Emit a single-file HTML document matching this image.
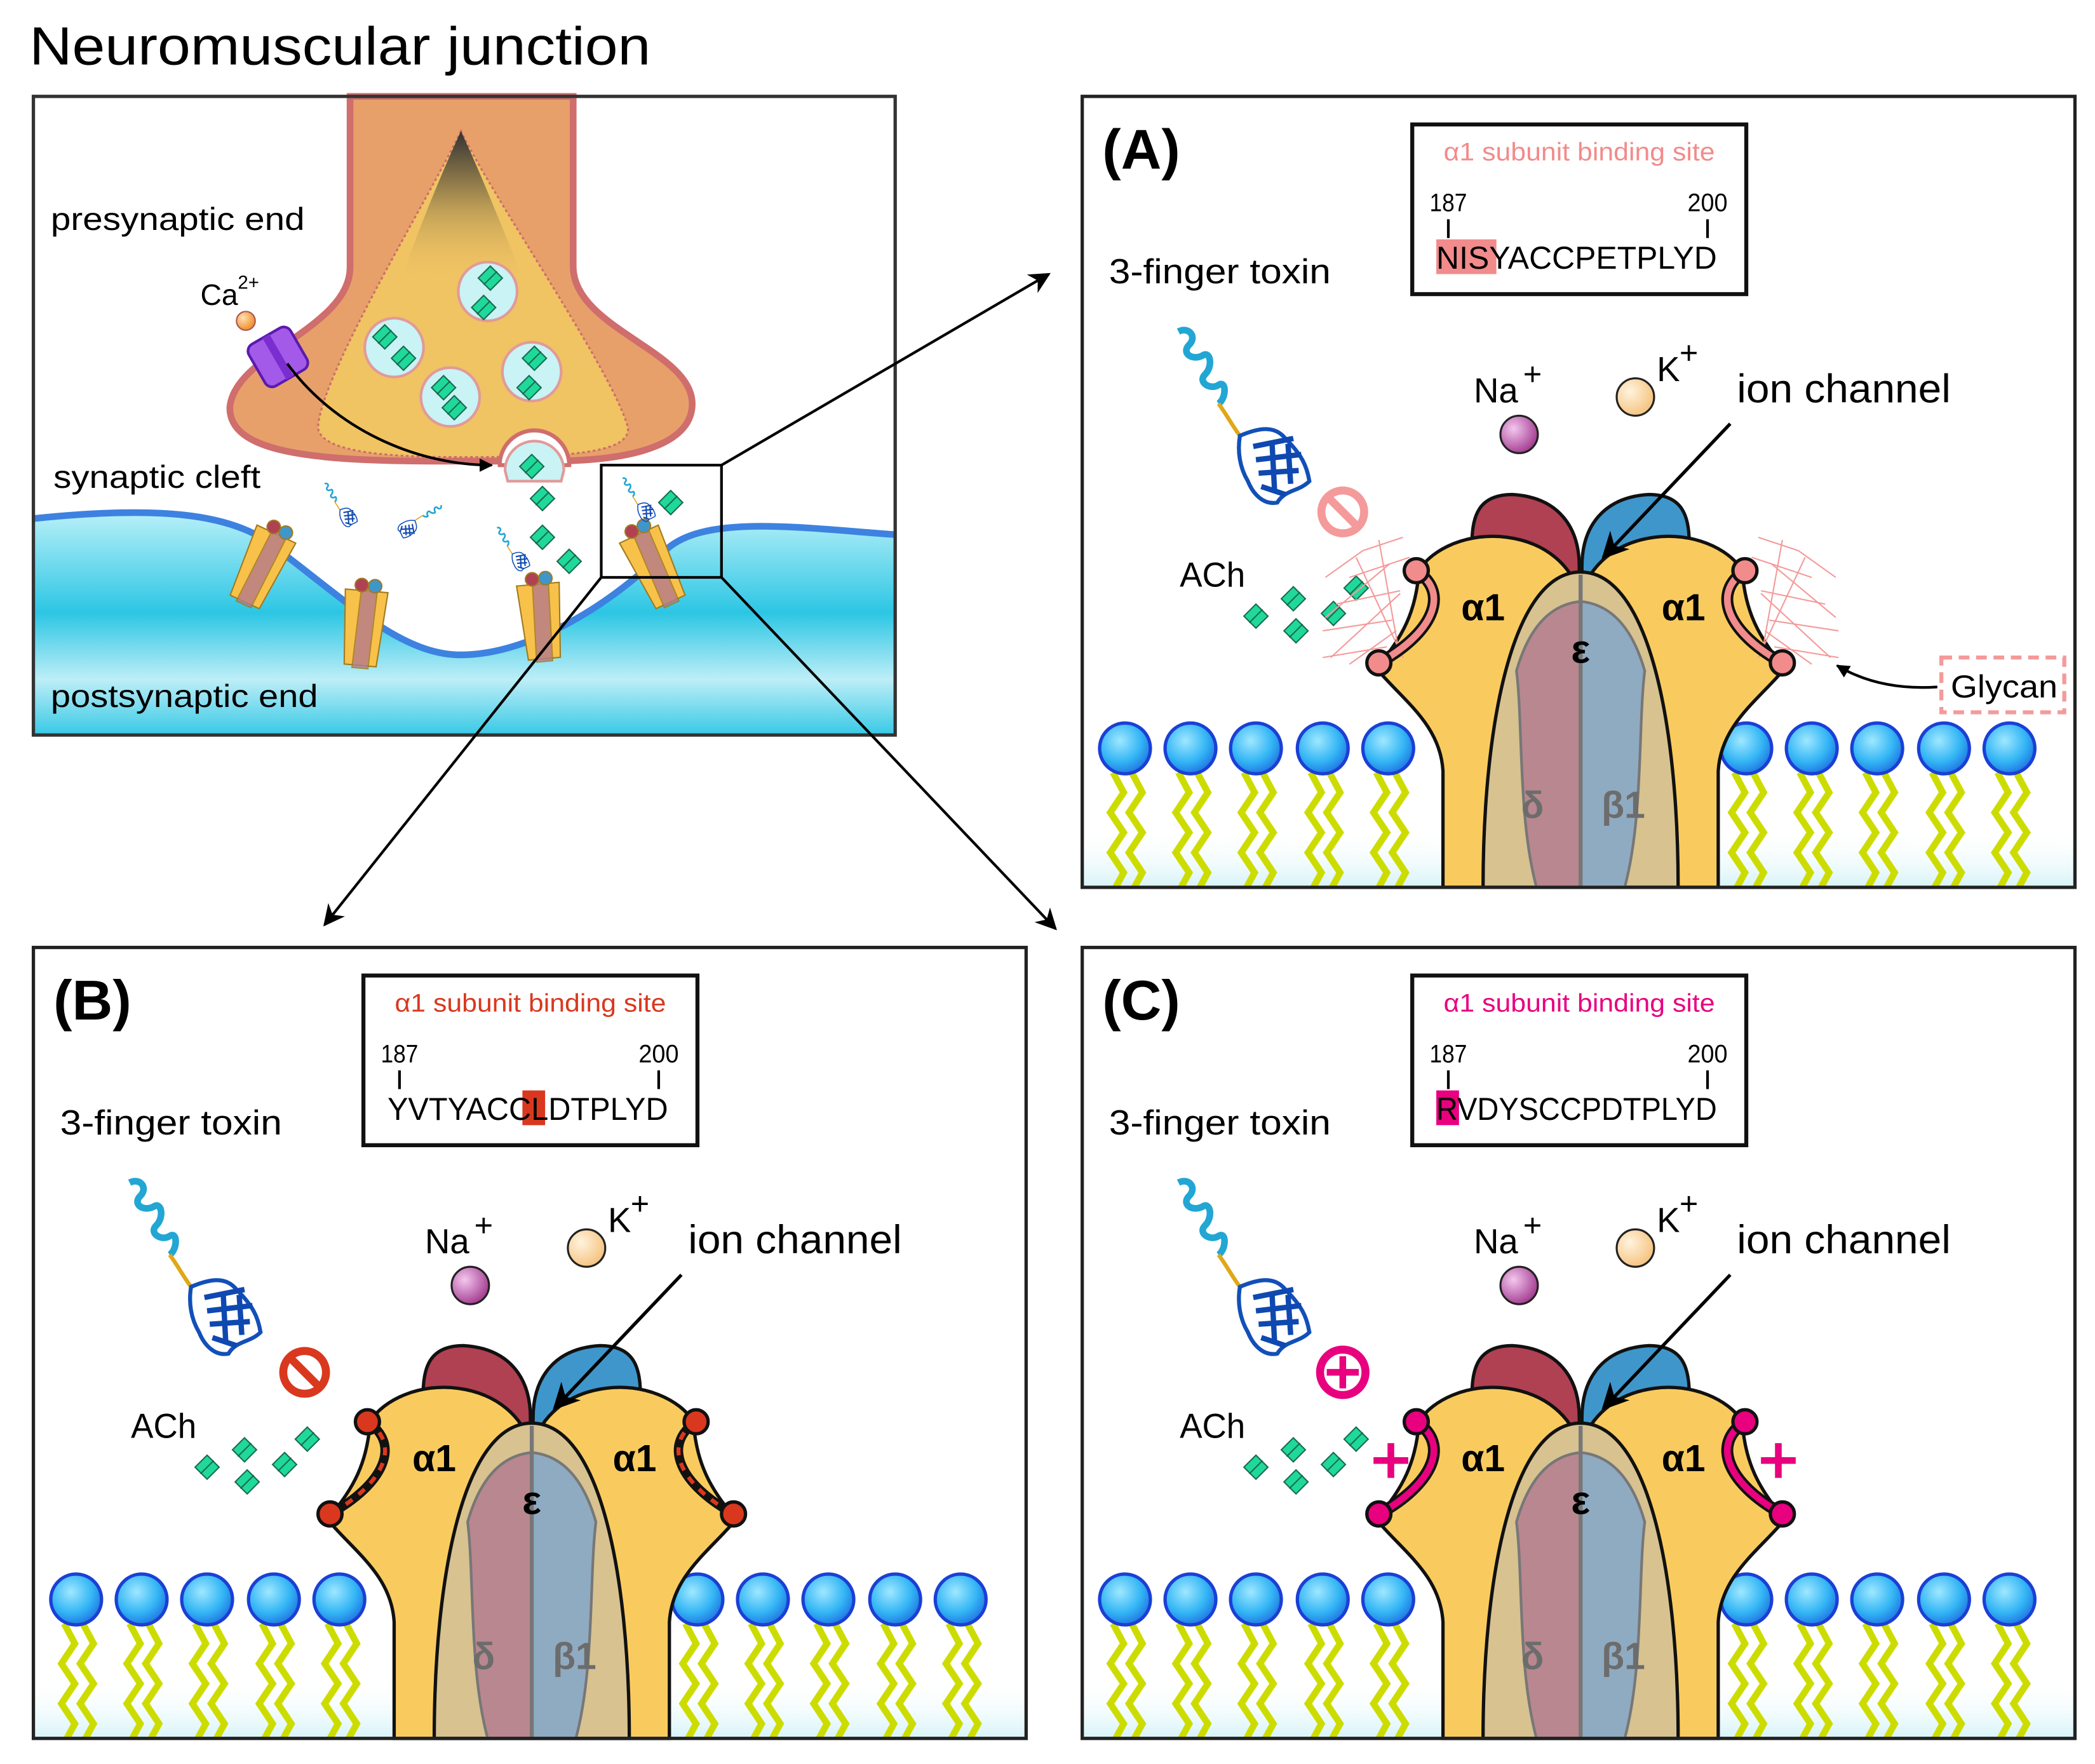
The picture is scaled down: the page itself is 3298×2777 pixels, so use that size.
<!DOCTYPE html>
<html><head><meta charset="utf-8"><style>
html,body{margin:0;padding:0;background:#fff}
svg{display:block}
text{font-family:"Liberation Sans","DejaVu Sans",sans-serif}
</style></head><body>
<svg width="3298" height="2777" viewBox="0 0 1568 1320" xmlns="http://www.w3.org/2000/svg">
<defs>
<radialGradient id="headg" cx="0.4" cy="0.35" r="0.7"><stop offset="0" stop-color="#9fe8ff"/><stop offset="0.6" stop-color="#33b5f5"/><stop offset="1" stop-color="#1e6fe0"/></radialGradient>
<radialGradient id="nag" cx="0.35" cy="0.35" r="0.7"><stop offset="0" stop-color="#f3c7ee"/><stop offset="1" stop-color="#a2398f"/></radialGradient>
<radialGradient id="kg" cx="0.35" cy="0.35" r="0.7"><stop offset="0" stop-color="#fff3df"/><stop offset="1" stop-color="#f5c27c"/></radialGradient>
<radialGradient id="cag" cx="0.35" cy="0.35" r="0.7"><stop offset="0" stop-color="#ffe1b5"/><stop offset="1" stop-color="#ef8a22"/></radialGradient>
<linearGradient id="bot" x1="0" y1="0" x2="0" y2="1"><stop offset="0" stop-color="#fff" stop-opacity="0"/><stop offset="1" stop-color="#d6f3f8"/></linearGradient>
<linearGradient id="post" x1="0" y1="0" x2="0" y2="1"><stop offset="0" stop-color="#b8f0f8"/><stop offset="0.45" stop-color="#2cc6e4"/><stop offset="0.75" stop-color="#bdeef7"/><stop offset="1" stop-color="#38c9e6"/></linearGradient>
<linearGradient id="apex" x1="0" y1="0" x2="0" y2="1"><stop offset="0" stop-color="#333"/><stop offset="0.5" stop-color="#b99a55"/><stop offset="1" stop-color="#f0c363" stop-opacity="0"/></linearGradient>
<marker id="ah" viewBox="0 0 10 10" refX="9" refY="5" markerWidth="8" markerHeight="8" orient="auto-start-reverse"><path d="M0,0 L10,5 L0,10 L3,5 Z" fill="#000"/></marker>
<marker id="ah2" viewBox="0 0 10 10" refX="9" refY="5" markerWidth="5" markerHeight="5" orient="auto"><path d="M0,0 L10,5 L0,10 Z" fill="#000"/></marker>

<g id="lip">
<polyline points="-9,18 -1,33 -11,48 -1,63 -11,78 -1,93 -7,104" fill="none" stroke="#cddc00" stroke-width="5"/>
<polyline points="5,18 13,33 3,48 13,63 3,78 13,93 7,104" fill="none" stroke="#cddc00" stroke-width="5"/>
<circle cx="0" cy="0" r="19" fill="url(#headg)" stroke="#1b3fd6" stroke-width="2.5"/>
</g>

<g id="ach"><path d="M0,-9 L9,0 L0,9 L-9,0 Z" fill="#1fd99a" stroke="#1a6b50" stroke-width="1"/><line x1="-5" y1="5" x2="5" y2="-5" stroke="#1a6b50" stroke-width="1"/></g>

<g id="alpha">
<path d="M372,592 L270,592 L270,505 C268,470 240,452 220,428 C240,405 250,385 252,355 C262,338 290,326 318,330 C348,334 366,352 372,372 Z" fill="#f9cb5f" stroke="#111" stroke-width="2.5"/>
</g>

<g id="toxin">
<path d="M0,0 C8,-4 14,4 8,10 C2,16 10,22 18,18 C24,14 26,26 20,32 C14,38 24,44 30,40 C36,36 36,50 30,54" fill="none" stroke="#22a6d4" stroke-width="5"/>
<path d="M30,54 C36,62 40,70 46,78" fill="none" stroke="#e0a818" stroke-width="3"/>
<path d="M46,78 C60,72 72,70 80,80 C92,92 96,100 98,112 C90,120 80,118 74,128 C64,130 56,122 52,112 C46,102 44,90 46,78 Z" fill="none" stroke="#1250b8" stroke-width="3"/>
<path d="M56,86 L86,80 M58,96 L92,92 M60,106 L90,104 M62,116 L80,122 M70,82 L72,120 M82,84 L84,114" stroke="#0f48b0" stroke-width="4"/>
</g>

<g id="panel">
<rect x="0" y="548" width="743" height="44" fill="url(#bot)"/>
<use href="#lip" x="32" y="488"/><use href="#lip" x="81" y="488"/><use href="#lip" x="130" y="488"/><use href="#lip" x="180" y="488"/><use href="#lip" x="229" y="488"/>
<use href="#lip" x="497" y="488"/><use href="#lip" x="546" y="488"/><use href="#lip" x="595" y="488"/><use href="#lip" x="645" y="488"/><use href="#lip" x="694" y="488"/>
<path d="M292,342 C290,312 298,298 322,298 C356,300 372,322 372,352 L372,372 L300,372 Z" fill="#b04152" stroke="#111" stroke-width="2.5"/>
<path d="M454,342 C456,312 448,298 424,298 C390,300 374,322 374,352 L374,372 L446,372 Z" fill="#3f96cb" stroke="#111" stroke-width="2.5"/>
<use href="#alpha"/>
<use href="#alpha" transform="translate(746,0) scale(-1,1)"/>
<path d="M300,592 C300,470 322,356 373,356 C424,356 446,470 446,592 Z" fill="#d7c290" stroke="#111" stroke-width="2.5"/>
<path d="M340,592 C326,540 330,470 325,430 C335,395 352,380 373,378 L373,592 Z" fill="#b9878f" stroke="#777" stroke-width="2"/>
<path d="M406,592 C420,540 416,470 421,430 C411,395 394,380 373,378 L373,592 Z" fill="#8fabc2" stroke="#777" stroke-width="2"/>
<path d="M373,358 L373,592" stroke="#777" stroke-width="3"/>
<text x="300" y="392" font-size="28" font-weight="bold" text-anchor="middle">α1</text>
<text x="450" y="392" font-size="28" font-weight="bold" text-anchor="middle">α1</text>
<text x="373" y="424" font-size="30" font-weight="bold" text-anchor="middle">ε</text>
<text x="337" y="540" font-size="28" font-weight="bold" text-anchor="middle" fill="#6c6c6c">δ</text>
<text x="405" y="540" font-size="28" font-weight="bold" text-anchor="middle" fill="#6c6c6c">β1</text>
<circle cx="327" cy="253" r="14" fill="url(#nag)" stroke="#222" stroke-width="1.5"/>
<circle cx="414" cy="225" r="14" fill="url(#kg)" stroke="#222" stroke-width="1.5"/>
<text x="293" y="229" font-size="26">Na</text><text x="330" y="216" font-size="24">+</text>
<text x="430" y="213" font-size="26">K</text><text x="447" y="200" font-size="24">+</text>
<text x="490" y="229" font-size="30" textLength="160" lengthAdjust="spacingAndGlyphs">ion channel</text>
<line x1="485" y1="245" x2="390" y2="345" stroke="#000" stroke-width="2.5" marker-end="url(#ah)"/>
<text x="20" y="140" font-size="26" textLength="166" lengthAdjust="spacingAndGlyphs">3-finger toxin</text>
<rect x="247" y="21" width="250" height="127" fill="#fff" stroke="#111" stroke-width="3"/>
<text x="260" y="86" font-size="19" textLength="28" lengthAdjust="spacingAndGlyphs">187</text>
<text x="453" y="86" font-size="19" textLength="30" lengthAdjust="spacingAndGlyphs">200</text>
<line x1="274" y1="92" x2="274" y2="106" stroke="#000" stroke-width="2"/>
<line x1="468" y1="92" x2="468" y2="106" stroke="#000" stroke-width="2"/>
<text x="73" y="367" font-size="26" textLength="49" lengthAdjust="spacingAndGlyphs">ACh</text>
<use href="#ach" x="130" y="389"/><use href="#ach" x="158" y="376"/><use href="#ach" x="160" y="400"/><use href="#ach" x="188" y="387"/><use href="#ach" x="205" y="368"/>
<use href="#toxin" x="72" y="176"/>
</g>
</defs>

<rect width="1568" height="1320" fill="#fff"/>
<text x="22" y="48" font-size="40" textLength="465" lengthAdjust="spacingAndGlyphs">Neuromuscular junction</text>

<!-- top-left panel -->
<g>
<path d="M25,388 C120,378 170,385 200,405 C260,450 300,490 345,490 C390,490 450,460 500,410 C530,385 600,395 670,400 L670,550 L25,550 Z" fill="url(#post)"/>
<path d="M25,388 C120,378 170,385 200,405 C260,450 300,490 345,490 C390,490 450,460 500,410 C530,385 600,395 670,400" fill="none" stroke="#3d82e0" stroke-width="5"/>
<path d="M262,72 L262,200 C262,245 175,265 172,305 C172,338 230,345 330,345 L410,345 C480,345 520,330 518,300 C515,262 430,245 429,200 L429,72 Z" fill="#e7a06a" stroke="#cf6e6c" stroke-width="5"/>
<path d="M345,98 C320,150 240,280 238,320 C240,340 300,342 345,342 C420,342 472,340 470,320 C460,280 370,150 345,98 Z" fill="#f0c363" stroke="#cc6e6a" stroke-width="1.5" stroke-dasharray="2,2"/>
<path d="M345,98 C330,130 310,180 300,210 L392,210 C380,180 360,130 345,98 Z" fill="url(#apex)"/>
<circle cx="365" cy="218" r="22" fill="#c9f3f5" stroke="#e19a9a" stroke-width="2"/>
<circle cx="295" cy="260" r="22" fill="#c9f3f5" stroke="#e19a9a" stroke-width="2"/>
<circle cx="398" cy="278" r="22" fill="#c9f3f5" stroke="#e19a9a" stroke-width="2"/>
<circle cx="337" cy="297" r="22" fill="#c9f3f5" stroke="#e19a9a" stroke-width="2"/>
<path d="M374,348 A26,26 0 0 1 426,348 Z" fill="#fff" stroke="#cf6e6c" stroke-width="3"/>
<path d="M378,352 A22,22 0 0 1 422,352 L420,360 L380,360 Z" fill="#c9f3f5" stroke="#e19a9a" stroke-width="2"/>
<g transform="scale(1)">
<use href="#ach" x="367" y="208"/><use href="#ach" x="362" y="230"/>
<use href="#ach" x="288" y="252"/><use href="#ach" x="302" y="268"/>
<use href="#ach" x="400" y="268"/><use href="#ach" x="396" y="290"/>
<use href="#ach" x="332" y="290"/><use href="#ach" x="340" y="305"/>
<use href="#ach" x="398" y="349"/><use href="#ach" x="406" y="373"/><use href="#ach" x="406" y="402"/><use href="#ach" x="426" y="420"/><use href="#ach" x="502" y="376"/>
</g>
<circle cx="184" cy="240" r="7" fill="url(#cag)" stroke="#a55" stroke-width="1"/>
<g transform="translate(208,267) rotate(-30)"><rect x="-18" y="-18" width="36" height="36" rx="6" fill="#a45ae8" stroke="#5a1ab0" stroke-width="2"/><line x1="0" y1="-18" x2="0" y2="18" stroke="#7a2ecf" stroke-width="6"/></g>
<path d="M215,272 C250,320 310,348 368,348" fill="none" stroke="#000" stroke-width="2" marker-end="url(#ah2)"/>
<text x="150" y="228" font-size="22">Ca</text><text x="178" y="216" font-size="14">2+</text>
<!-- receptors -->
<g fill="#f8c24a" stroke="#a07a20" stroke-width="1">
<g transform="translate(195,425) rotate(25)"><path d="M-16,-28 L16,-28 L12,28 L-12,28 Z"/><path d="M-4,-30 L8,-30 L6,30 L-6,30 Z" fill="#b57a8a" opacity="0.8"/><circle cx="-4" cy="-32" r="5" fill="#b04152"/><circle cx="6" cy="-32" r="5" fill="#3f96cb"/></g>
<g transform="translate(272,470) rotate(5)"><path d="M-16,-28 L16,-28 L12,28 L-12,28 Z"/><path d="M-4,-30 L8,-30 L6,30 L-6,30 Z" fill="#b57a8a" opacity="0.8"/><circle cx="-4" cy="-32" r="5" fill="#b04152"/><circle cx="6" cy="-32" r="5" fill="#3f96cb"/></g>
<g transform="translate(405,465) rotate(-5)"><path d="M-16,-28 L16,-28 L12,28 L-12,28 Z"/><path d="M-4,-30 L8,-30 L6,30 L-6,30 Z" fill="#b57a8a" opacity="0.8"/><circle cx="-4" cy="-32" r="5" fill="#b04152"/><circle cx="6" cy="-32" r="5" fill="#3f96cb"/></g>
<g transform="translate(490,425) rotate(-25)"><path d="M-16,-28 L16,-28 L12,28 L-12,28 Z"/><path d="M-4,-30 L8,-30 L6,30 L-6,30 Z" fill="#b57a8a" opacity="0.8"/><circle cx="-4" cy="-32" r="5" fill="#b04152"/><circle cx="6" cy="-32" r="5" fill="#3f96cb"/></g>
</g>
<use href="#toxin" transform="translate(243,362) scale(0.25)"/>
<use href="#toxin" transform="translate(330,378) rotate(90) scale(0.25)"/>
<use href="#toxin" transform="translate(372,395) scale(0.25)"/>
<use href="#toxin" transform="translate(466,358) scale(0.25)"/>
<text x="38" y="172" font-size="24" textLength="190" lengthAdjust="spacingAndGlyphs">presynaptic end</text>
<text x="40" y="365" font-size="24" textLength="155" lengthAdjust="spacingAndGlyphs">synaptic cleft</text>
<text x="38" y="529" font-size="24" textLength="200" lengthAdjust="spacingAndGlyphs">postsynaptic end</text>
<rect x="450" y="348" width="90" height="84" fill="none" stroke="#000" stroke-width="2"/>
<rect x="25" y="72" width="645" height="478" fill="none" stroke="#333" stroke-width="2.5"/>
</g>
<line x1="540" y1="348" x2="785" y2="205" stroke="#000" stroke-width="2" marker-end="url(#ah)"/>
<line x1="450" y1="432" x2="243" y2="692" stroke="#000" stroke-width="2" marker-end="url(#ah)"/>
<line x1="540" y1="432" x2="790" y2="695" stroke="#000" stroke-width="2" marker-end="url(#ah)"/>

<!-- Panel A -->
<g transform="translate(810,72)">
<use href="#panel"/>
<g stroke="#f49a9a" stroke-width="1" fill="none">
<path d="M210,340 L240,330 M200,360 L245,345 M190,380 L238,370 M180,400 L232,392 M180,420 L228,412 M182,360 L210,340 M182,390 L230,350 M186,420 L238,372 M200,425 L235,400 M205,345 L240,420 M222,332 L236,410"/>
<path d="M536,340 L506,330 M546,360 L501,345 M556,380 L508,370 M566,400 L514,392 M566,420 L518,412 M564,360 L536,340 M564,390 L516,350 M560,420 L508,372 M546,425 L511,400 M541,345 L506,420 M524,332 L510,410"/>
</g>
<path d="M250,355 C276,372 262,402 222,424" fill="none" stroke="#111" stroke-width="9"/>
<path d="M250,355 C276,372 262,402 222,424" fill="none" stroke="#f28b8b" stroke-width="5"/>
<circle cx="250" cy="355" r="9" fill="#f28b8b" stroke="#111" stroke-width="2.5"/><circle cx="222" cy="424" r="9" fill="#f28b8b" stroke="#111" stroke-width="2.5"/>
<path d="M496,355 C470,372 484,402 524,424" fill="none" stroke="#111" stroke-width="9"/>
<path d="M496,355 C470,372 484,402 524,424" fill="none" stroke="#f28b8b" stroke-width="5"/>
<circle cx="496" cy="355" r="9" fill="#f28b8b" stroke="#111" stroke-width="2.5"/><circle cx="524" cy="424" r="9" fill="#f28b8b" stroke="#111" stroke-width="2.5"/>
<circle cx="195" cy="311" r="16" fill="none" stroke="#f49a9a" stroke-width="6"/><line x1="184" y1="300" x2="206" y2="322" stroke="#f49a9a" stroke-width="6"/>
<rect x="643" y="420" width="92" height="41" fill="#fff" stroke="#f49a9a" stroke-width="3" stroke-dasharray="8,5"/>
<text x="650" y="450" font-size="24" textLength="80" lengthAdjust="spacingAndGlyphs">Glycan</text>
<path d="M640,442 C610,444 585,438 565,426" fill="none" stroke="#000" stroke-width="2" marker-end="url(#ah2)"/>
<text x="15" y="54" font-size="42" font-weight="bold">(A)</text>
<rect x="265" y="107" width="45" height="26" fill="#f28b8b"/>
<text x="372" y="48" font-size="19" fill="#f28b8b" text-anchor="middle" textLength="203" lengthAdjust="spacingAndGlyphs">α1 subunit binding site</text>
<text x="265" y="129" font-size="24" textLength="210" lengthAdjust="spacingAndGlyphs">NISYACCPETPLYD</text>
<rect x="0" y="0" width="743" height="592" fill="none" stroke="#222" stroke-width="2.5"/>
</g>

<!-- Panel B -->
<g transform="translate(25,709)">
<use href="#panel"/>
<path d="M250,355 C276,372 262,402 222,424" fill="none" stroke="#111" stroke-width="7"/>
<path d="M250,355 C276,372 262,402 222,424" fill="none" stroke="#d9381e" stroke-width="3" stroke-dasharray="6,6"/>
<circle cx="250" cy="355" r="9" fill="#d9381e" stroke="#111" stroke-width="2.5"/><circle cx="222" cy="424" r="9" fill="#d9381e" stroke="#111" stroke-width="2.5"/>
<path d="M496,355 C470,372 484,402 524,424" fill="none" stroke="#111" stroke-width="7"/>
<path d="M496,355 C470,372 484,402 524,424" fill="none" stroke="#d9381e" stroke-width="3" stroke-dasharray="6,6"/>
<circle cx="496" cy="355" r="9" fill="#d9381e" stroke="#111" stroke-width="2.5"/><circle cx="524" cy="424" r="9" fill="#d9381e" stroke="#111" stroke-width="2.5"/>
<circle cx="203" cy="318" r="16" fill="none" stroke="#d9381e" stroke-width="6"/><line x1="192" y1="307" x2="214" y2="329" stroke="#d9381e" stroke-width="6"/>
<text x="15" y="54" font-size="42" font-weight="bold">(B)</text>
<rect x="366" y="107" width="17" height="26" fill="#d9381e"/>
<text x="372" y="48" font-size="19" fill="#d9381e" text-anchor="middle" textLength="203" lengthAdjust="spacingAndGlyphs">α1 subunit binding site</text>
<text x="265" y="129" font-size="24" textLength="210" lengthAdjust="spacingAndGlyphs">YVTYACCLDTPLYD</text>
<rect x="0" y="0" width="743" height="592" fill="none" stroke="#222" stroke-width="2.5"/>
</g>

<!-- Panel C -->
<g transform="translate(810,709)">
<use href="#panel"/>
<path d="M250,355 C276,372 262,402 222,424" fill="none" stroke="#111" stroke-width="9"/>
<path d="M250,355 C276,372 262,402 222,424" fill="none" stroke="#e8007f" stroke-width="5"/>
<circle cx="250" cy="355" r="9" fill="#e8007f" stroke="#111" stroke-width="2.5"/><circle cx="222" cy="424" r="9" fill="#e8007f" stroke="#111" stroke-width="2.5"/>
<path d="M496,355 C470,372 484,402 524,424" fill="none" stroke="#111" stroke-width="9"/>
<path d="M496,355 C470,372 484,402 524,424" fill="none" stroke="#e8007f" stroke-width="5"/>
<circle cx="496" cy="355" r="9" fill="#e8007f" stroke="#111" stroke-width="2.5"/><circle cx="524" cy="424" r="9" fill="#e8007f" stroke="#111" stroke-width="2.5"/>
<circle cx="195" cy="318" r="17" fill="none" stroke="#e8007f" stroke-width="6"/><path d="M183,318 L207,318 M195,306 L195,330" stroke="#e8007f" stroke-width="5"/>
<path d="M218,384 L244,384 M231,371 L231,397" stroke="#e8007f" stroke-width="5"/>
<path d="M508,384 L534,384 M521,371 L521,397" stroke="#e8007f" stroke-width="5"/>
<text x="15" y="54" font-size="42" font-weight="bold">(C)</text>
<rect x="265" y="107" width="17" height="26" fill="#e8007f"/>
<text x="372" y="48" font-size="19" fill="#e8007f" text-anchor="middle" textLength="203" lengthAdjust="spacingAndGlyphs">α1 subunit binding site</text>
<text x="265" y="129" font-size="24" textLength="210" lengthAdjust="spacingAndGlyphs">RVDYSCCPDTPLYD</text>
<rect x="0" y="0" width="743" height="592" fill="none" stroke="#222" stroke-width="2.5"/>
</g>
</svg>
</body></html>
